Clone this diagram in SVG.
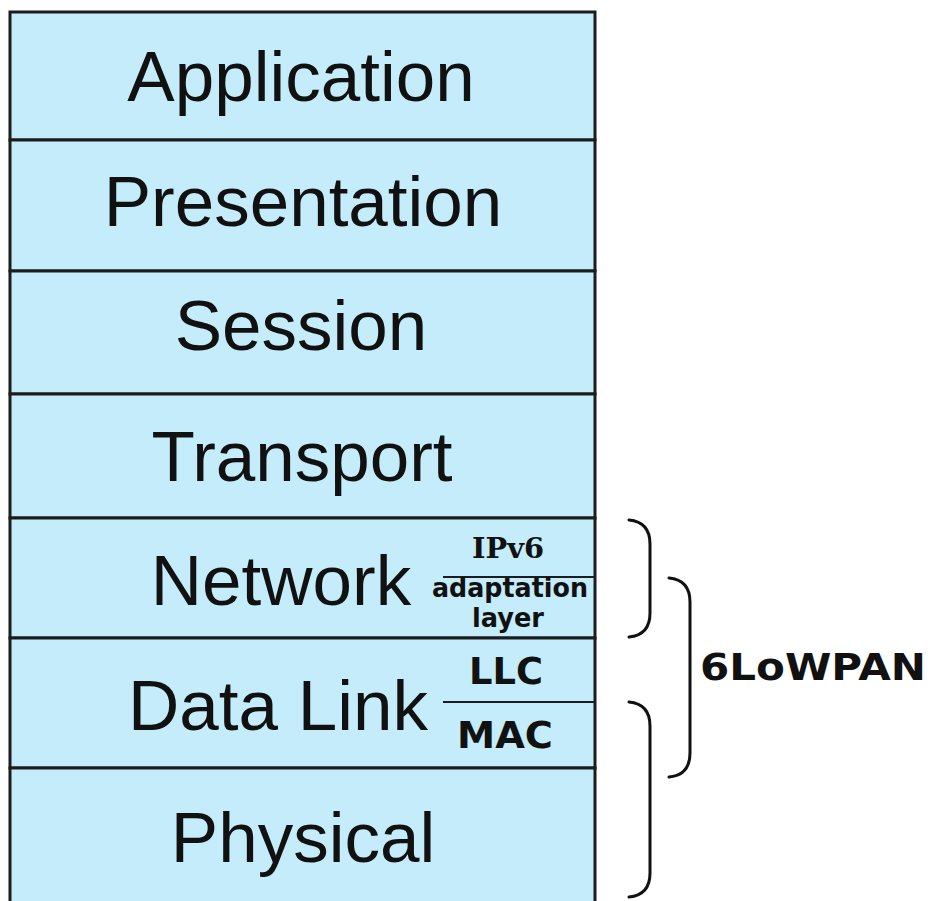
<svg xmlns="http://www.w3.org/2000/svg" width="931" height="901" viewBox="0 0 931 901">
<style>
.layer{fill:#c4ecfb;stroke:#1c1c1c;stroke-width:3}
.big{font-family:"Liberation Sans",Arial,sans-serif;font-size:71px;fill:#111;text-anchor:middle}
.sub{font-family:"DejaVu Sans",Verdana,sans-serif;font-weight:bold;fill:#111;text-anchor:middle}
.ser{font-family:"DejaVu Serif",Georgia,serif;font-weight:bold;fill:#111;text-anchor:middle}
.div{stroke:#1c1c1c;stroke-width:2}
.br{fill:none;stroke:#111;stroke-width:3;stroke-linecap:round}
</style>
<rect x="0" y="0" width="931" height="901" fill="#ffffff"/>
<g id="application"><rect class="layer" x="10" y="12" width="585" height="128"/><text class="big" x="301" y="101">Application</text></g>
<g id="presentation"><rect class="layer" x="10" y="140" width="585" height="131"/><text class="big" x="303" y="226">Presentation</text></g>
<g id="session"><rect class="layer" x="10" y="271" width="585" height="123"/><text class="big" x="301" y="350">Session</text></g>
<g id="transport"><rect class="layer" x="10" y="394" width="585" height="124"/><text class="big" x="302" y="481">Transport</text></g>
<g id="network"><rect class="layer" x="10" y="518" width="585" height="120"/><text class="big" x="281" y="605">Network</text>
<text class="ser" x="508" y="558" font-size="28" textLength="72" lengthAdjust="spacingAndGlyphs">IPv6</text>
<line class="div" x1="443" y1="577" x2="595" y2="577"/>
<text class="sub" x="510" y="597" font-size="26" textLength="156" lengthAdjust="spacingAndGlyphs">adaptation</text>
<text class="sub" x="508" y="627" font-size="26" textLength="72" lengthAdjust="spacingAndGlyphs">layer</text></g>
<g id="datalink"><rect class="layer" x="10" y="638" width="585" height="130"/><text class="big" x="278" y="730">Data Link</text>
<text class="sub" x="506" y="684" font-size="38" textLength="74" lengthAdjust="spacingAndGlyphs">LLC</text>
<line class="div" x1="443" y1="702" x2="595" y2="702"/>
<text class="sub" x="505" y="748" font-size="37" textLength="96" lengthAdjust="spacingAndGlyphs">MAC</text></g>
<g id="physical"><rect class="layer" x="10" y="768" width="585" height="150"/><text class="big" x="303" y="862">Physical</text></g>
<g id="connectors">
<path class="br" d="M629,520 Q650,522 650,544 L650,613 Q650,635 629,637"/>
<path class="br" d="M669,578 Q690,580 690,602 L690,753 Q690,775 669,777"/>
<path class="br" d="M629,702 Q650,704 650,726 L650,873 Q650,895 629,897"/>
</g>
<g id="label-6lowpan"><text class="sub" x="813" y="680" font-size="37" textLength="226" lengthAdjust="spacingAndGlyphs">6LoWPAN</text></g>
</svg>
